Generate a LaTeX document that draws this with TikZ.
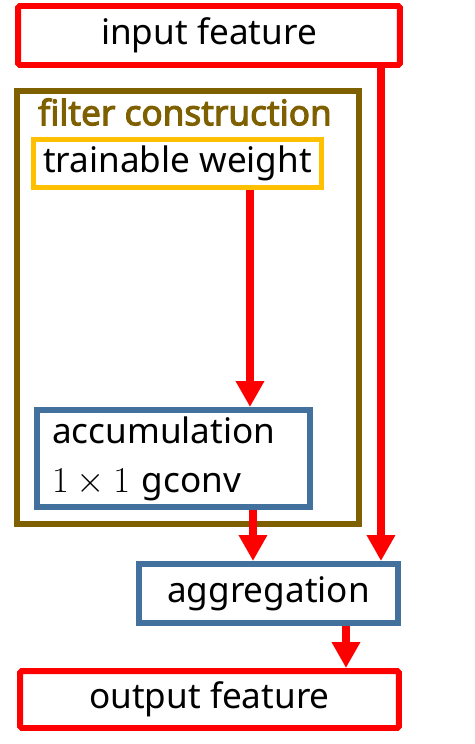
\documentclass[tikz,border=0pt]{standalone}
\usepackage{fontspec}
\setmainfont{Noto Sans}
\newfontfamily\titlefont{Noto Sans}[FakeBold=3]
\usepackage{xcolor}
\definecolor{featred}    {HTML}{FF0000}
\definecolor{filterbrown}{HTML}{7F6000}
\definecolor{weightgold} {HTML}{FFC000}
\definecolor{opblue}     {HTML}{41719C}
\usetikzlibrary{arrows.meta, positioning, calc}

\begin{document}
\begin{tikzpicture}[x=0.02cm, y=-0.02cm,
    every node/.style={font=\fontsize{20}{28}\selectfont, inner sep=0pt},
    feature/.style={draw=featred, line width=3.4pt, rounded corners=1pt,
                    minimum width=7.64cm, minimum height=1.18cm},
    opbox/.style={draw=opblue, line width=3.4pt},
    flow/.style={featred, line width=4.5pt,
                 -{Triangle[length=0.52cm, width=0.54cm]}}]

    \useasboundingbox (0,0) rectangle (475,744);

    % --- input and output features
    \node[feature] (input) at (209,35.5) {input feature};
    \node[feature, minimum width=7.58cm, minimum height=1.14cm] (output) at (209.5,699.5) {output feature};

    % --- filter construction block
    \node[draw=filterbrown, line width=3.4pt, minimum width=6.84cm, minimum height=8.66cm] (filter) at (188,307.5) {};
    \node[font=\titlefont\fontsize{20}{24}\selectfont, text=filterbrown] (title) at (185,112) {filter construction};
    \node[draw=weightgold, line width=2.8pt, minimum width=5.76cm, minimum height=0.96cm] (weight) at (177.5,163.5) {trainable weight};
    \node[opbox, minimum width=5.46cm, minimum height=1.94cm, text width=4.86cm, align=left] (accum) at (173.5,458.5) {accumulation\\$1\times1$ gconv};

    % --- aggregation
    \node[opbox, minimum width=5.18cm, minimum height=1.18cm] (aggr) at (268.5,593.5) {aggregation};

    \draw[flow] ([xshift=1.45cm]weight.south) -- ([xshift=1.45cm]weight.south |- accum.north);
    \draw[flow] ([xshift=1.59cm]accum.south) -- ([xshift=1.59cm]accum.south |- aggr.north);
    \draw[flow] ([xshift=3.44cm]input.south) -- ([xshift=3.44cm]input.south |- aggr.north);
    \draw[flow] ([xshift=1.55cm]aggr.south) -- ([xshift=1.55cm]aggr.south |- output.north);
\end{tikzpicture}
\end{document}
